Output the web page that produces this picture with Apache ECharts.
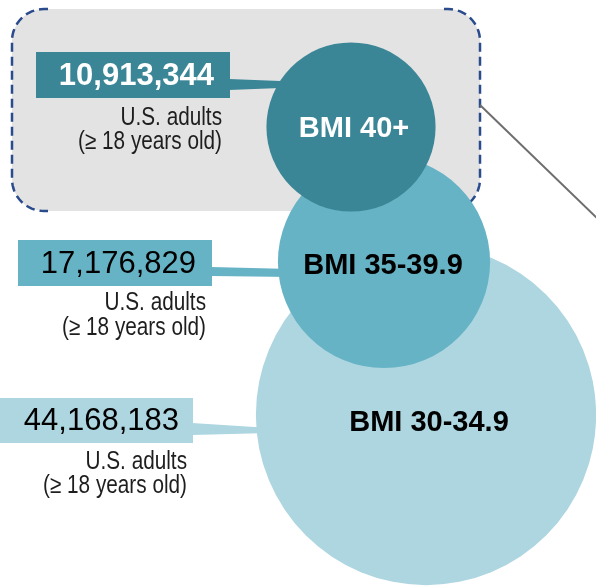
<!DOCTYPE html>
<html>
<head>
<meta charset="utf-8">
<script src="https://cdn.jsdelivr.net/npm/echarts@6/dist/echarts.min.js"></script>
<style>
html,body{margin:0;padding:0;background:#fff;}
#chart{width:596px;height:587px;}
</style>
</head>
<body>
<div id="chart"></div>
<script>
// ---- data ----
const categories = ["BMI 40+", "BMI 35-39.9", "BMI 30-34.9"];
const adults = [10913344, 17176829, 44168183];
const numberLabels = ["10,913,344", "17,176,829", "44,168,183"];
const subLabel1 = "U.S. adults";
const subLabel2 = "(\u2265 18 years old)";

// ---- layout / style ----
const centers = [[351, 127], [384, 262], [426, 415]];   // circle centres in axis units (= px)
const radiusScale = 0.0256;                               // radius = k * sqrt(value)
const colors = ["#3a8697", "#67b3c6", "#add6e0"];
const circleText = ["#ffffff", "#000000", "#000000"];
const labelOffsets = [[3, 2], [-1, 4], [3, 8]];
const boxes = [
  {x: 36, y: 52, w: 194, h: 46, tr: 214, textColor: "#ffffff", bold: true},
  {x: 18, y: 240, w: 194, h: 46, tr: 196, textColor: "#000000", bold: false},
  {x: 0, y: 398, w: 193, h: 45, tr: 179, textColor: "#000000", bold: false}
];
const subPos = [[222, 118, 142], [206, 303, 328], [187, 462, 486]];
const connectorY = [[79, 90, 81, 88], [267, 276, 269, 277], [423, 435, 428, 433]];

const chart = echarts.init(document.getElementById('chart'), null, {renderer: 'canvas'});

const radius = adults.map(v => radiusScale * Math.sqrt(v));

// draw order: largest first
const order = [2, 1, 0];
const series = order.map(i => ({
  type: 'scatter',
  name: categories[i],
  z: 2 + (2 - i),
  symbol: 'circle',
  symbolSize: (val) => 2 * radiusScale * Math.sqrt(val[2]),
  itemStyle: {color: colors[i], opacity: 1},
  label: {
    show: true, position: 'inside', offset: labelOffsets[i],
    formatter: (p) => p.data[3],
    color: circleText[i], fontFamily: 'Liberation Sans, Arial, sans-serif',
    fontWeight: 'bold', fontSize: 29
  },
  emphasis: {disabled: true},
  silent: true,
  data: [[centers[i][0], centers[i][1], adults[i], categories[i]]]
}));

function bracket(xStraight, xEnd, top, bottom, rr, dir) {
  const pts = [];
  const cx = xStraight - dir * rr;
  const n = 16;
  for (let k = 0; k <= n; k++) {
    const a = (Math.PI / 2) * k / n;
    pts.push([cx + dir * rr * Math.sin(a), top + rr - rr * Math.cos(a)]);
  }
  for (let k = 0; k <= n; k++) {
    const a = (Math.PI / 2) * k / n;
    pts.push([cx + dir * rr * Math.cos(a), bottom - rr + rr * Math.sin(a)]);
  }
  pts.unshift([xEnd, top]);
  pts.push([xEnd, bottom]);
  return pts;
}

const graphics = [];
graphics.push({type: 'rect', z: -10, shape: {x: 12, y: 9, width: 468, height: 202, r: 32},
  style: {fill: '#e3e3e3'}, silent: true});
const r = 32;
graphics.push({type: 'polyline', z: -9, silent: true,
  shape: {points: bracket(12, 48, 9, 211, r, -1)},
  style: {fill: 'none', stroke: '#2a4b8c', lineWidth: 2.5, lineDash: [9, 5]}});
graphics.push({type: 'polyline', z: -9, silent: true,
  shape: {points: bracket(480, 444, 9, 211, r, 1)},
  style: {fill: 'none', stroke: '#2a4b8c', lineWidth: 2.5, lineDash: [9, 5]}});
graphics.push({type: 'line', z: -8, silent: true,
  shape: {x1: 480, y1: 105, x2: 600, y2: 221},
  style: {stroke: '#6e6e6e', lineWidth: 2}});

categories.forEach((c, i) => {
  const b = boxes[i];
  const leftEdge = centers[i][0] - radius[i];
  const cy = connectorY[i];
  graphics.push({type: 'polygon', z: 1, silent: true,
    shape: {points: [[b.x + b.w - 1, cy[0]], [leftEdge + 14, cy[2]], [leftEdge + 14, cy[3]], [b.x + b.w - 1, cy[1]]]},
    style: {fill: colors[i]}});
  graphics.push({type: 'rect', z: 20, silent: true,
    shape: {x: b.x, y: b.y, width: b.w, height: b.h}, style: {fill: colors[i]}});
  graphics.push({type: 'text', z: 21, silent: true,
    style: {x: b.tr, y: b.y + b.h / 2 + 1, text: numberLabels[i], align: 'right', verticalAlign: 'middle',
      fill: b.textColor, font: (b.bold ? 'bold ' : '') + '31px "Liberation Sans", Arial, sans-serif'}});
  const sp = subPos[i];
  [subLabel1, subLabel2].forEach((t, k) => {
    graphics.push({type: 'text', z: 21, silent: true,
      x: sp[0], y: sp[1 + k], scaleX: 0.83, originX: 0, originY: 0,
      style: {x: 0, y: 0, text: t, align: 'right', verticalAlign: 'middle',
        fill: '#1e1e1e', font: '25px "Liberation Sans", Arial, sans-serif'}});
  });
});

chart.setOption({
  animation: false,
  grid: {left: 0, right: 0, top: 0, bottom: 0},
  xAxis: {type: 'value', min: 0, max: 596, show: false},
  yAxis: {type: 'value', min: 0, max: 587, inverse: true, show: false},
  graphic: {elements: graphics},
  series: series
});
</script>
</body>
</html>
